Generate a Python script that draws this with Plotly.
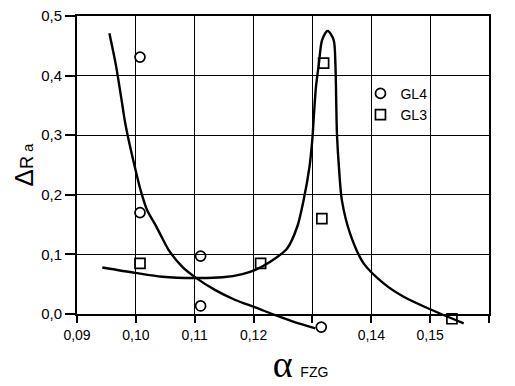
import plotly.graph_objects as go

# --- data ---
gl4_x = [0.1007, 0.1007, 0.1110, 0.1110, 0.1315]
gl4_y = [0.431, 0.170, 0.097, 0.0135, -0.022]

gl3_x = [0.1007, 0.1212, 0.1319, 0.1316, 0.1537]
gl3_y = [0.085, 0.085, 0.421, 0.160, -0.008]

fit4_x = [0.0955, 0.0966, 0.0977, 0.0981, 0.0986, 0.09995, 0.1008, 0.1019, 0.1033,
          0.1045, 0.1056, 0.1079, 0.1101, 0.1135, 0.1169, 0.1203, 0.1237, 0.1271, 0.1305]
fit4_y = [0.471, 0.418, 0.351, 0.3255, 0.300, 0.2416, 0.208, 0.1745, 0.150,
          0.127, 0.107, 0.079, 0.0615, 0.040, 0.0235, 0.011, -0.002, -0.014, -0.024]

fit3_x = [0.0943, 0.0999, 0.1045, 0.1101, 0.1147, 0.1181, 0.1203, 0.1229, 0.1257,
          0.1274, 0.1285, 0.1295, 0.1300, 0.1302, 0.1306, 0.1311, 0.13165, 0.1326,
          0.1336, 0.1339, 0.1340, 0.1341, 0.1342, 0.1345, 0.1350, 0.1364, 0.1387,
          0.1421, 0.1455, 0.1500, 0.1557]
fit3_y = [0.078, 0.069, 0.0626, 0.0604, 0.0616, 0.067, 0.074, 0.088, 0.110,
          0.146, 0.191, 0.247, 0.295, 0.3255, 0.381, 0.420, 0.460, 0.475,
          0.460, 0.420, 0.381, 0.3255, 0.295, 0.247, 0.191, 0.135, 0.085,
          0.0515, 0.029, 0.008, -0.0156]

x_range = [0.09, 0.16]
y_range = [0.0, 0.5]
x_tickvals = [0.09, 0.10, 0.11, 0.12, 0.13, 0.14, 0.15, 0.16]
x_ticktext = ["0,09", "0,10", "0,11", "0,12", "", "0,14", "0,15", ""]
y_tickvals = [0.0, 0.1, 0.2, 0.3, 0.4, 0.5]
y_ticktext = ["0,0", "0,1", "0,2", "0,3", "0,4", "0,5"]

FONT = "Liberation Sans, Arial, sans-serif"
NB = "\u00a0"

# geometry (page has an 8px body margin)
W, H = 507, 378
ML, MR, MT, MB = 69, 26, 8, 48
region_h = H - MT - MB          # full drawing region incl. strip below y=0
below_px = 24                   # strip below the y=0 axis where curves may run
f = below_px / region_h
y_lo = y_range[0] - (y_range[1] - y_range[0]) * f / (1 - f)

fig = go.Figure()
# empty trace so the framed main subplot (x, y) is drawn
fig.add_trace(go.Scatter(x=[], y=[], mode="markers", showlegend=False,
                         hoverinfo="skip", xaxis="x", yaxis="y"))
line_kw = dict(color="black", width=2.4, shape="spline")
fig.add_trace(go.Scatter(x=fit4_x, y=fit4_y, mode="lines", showlegend=False,
                         line=dict(**line_kw, smoothing=0.8), xaxis="x2", yaxis="y2"))
fig.add_trace(go.Scatter(x=fit3_x, y=fit3_y, mode="lines", showlegend=False,
                         line=dict(**line_kw, smoothing=0.8), xaxis="x2", yaxis="y2"))
fig.add_trace(go.Scatter(x=gl4_x, y=gl4_y, mode="markers", name="GL4",
                         xaxis="x2", yaxis="y2",
                         marker=dict(symbol="circle-open", size=10, color="black",
                                     line=dict(width=1.7, color="black"))))
fig.add_trace(go.Scatter(x=gl3_x, y=gl3_y, mode="markers", name="GL3",
                         xaxis="x2", yaxis="y2",
                         marker=dict(symbol="square-open", size=10, color="black",
                                     line=dict(width=1.7, color="black"))))

fig.update_layout(
    width=W, height=H,
    margin=dict(l=ML, r=MR, t=MT, b=MB, autoexpand=False),
    paper_bgcolor="white", plot_bgcolor="rgba(0,0,0,0)",
    font=dict(family=FONT, size=14, color="black"),
    showlegend=True,
    legend=dict(x=0.688, y=0.808, xanchor="left", yanchor="top",
                bgcolor="rgba(0,0,0,0)", borderwidth=0,
                font=dict(size=14, family=FONT), itemwidth=30,
                tracegroupgap=0),
    xaxis=dict(
        domain=[0, 1], anchor="y", automargin=False, ticklabeloverflow="allow",
        range=x_range, tickvals=x_tickvals, ticktext=x_ticktext,
        showgrid=True, gridcolor="black", gridwidth=1,
        showline=True, linecolor="black", linewidth=2, mirror=True,
        ticks="outside", ticklen=7, tickwidth=2, tickcolor="black",
        zeroline=False, tickfont=dict(size=14),
        title=dict(text="<span style='font-size:14px'>" + NB * 9 + "</span>"
                        "<span style='font-family:Liberation Serif;font-size:38px'>α</span>"
                        "<span style='font-size:14px'>" + NB * 2 + "FZG</span>",
                   standoff=2),
    ),
    yaxis=dict(
        domain=[f, 1], anchor="x", automargin=False, ticklabeloverflow="allow",
        range=y_range, tickvals=y_tickvals, ticktext=y_ticktext,
        showgrid=True, gridcolor="black", gridwidth=1,
        showline=True, linecolor="black", linewidth=2, mirror=True,
        ticks="outside", ticklen=10, tickwidth=2, tickcolor="black",
        zeroline=False, tickfont=dict(size=15),
        title=dict(text="<span style='font-size:26px'>Δ</span>R"
                        "<span style='font-size:15px'>" + NB + "a</span>",
                   standoff=3, font=dict(size=18)),
    ),
    xaxis2=dict(domain=[0, 1], anchor="y2", range=x_range, visible=False,
                showgrid=False, zeroline=False, automargin=False),
    yaxis2=dict(domain=[0, 1], anchor="x2", range=[y_lo, y_range[1]], visible=False,
                showgrid=False, zeroline=False, automargin=False),
)

fig.write_html("out.html")
